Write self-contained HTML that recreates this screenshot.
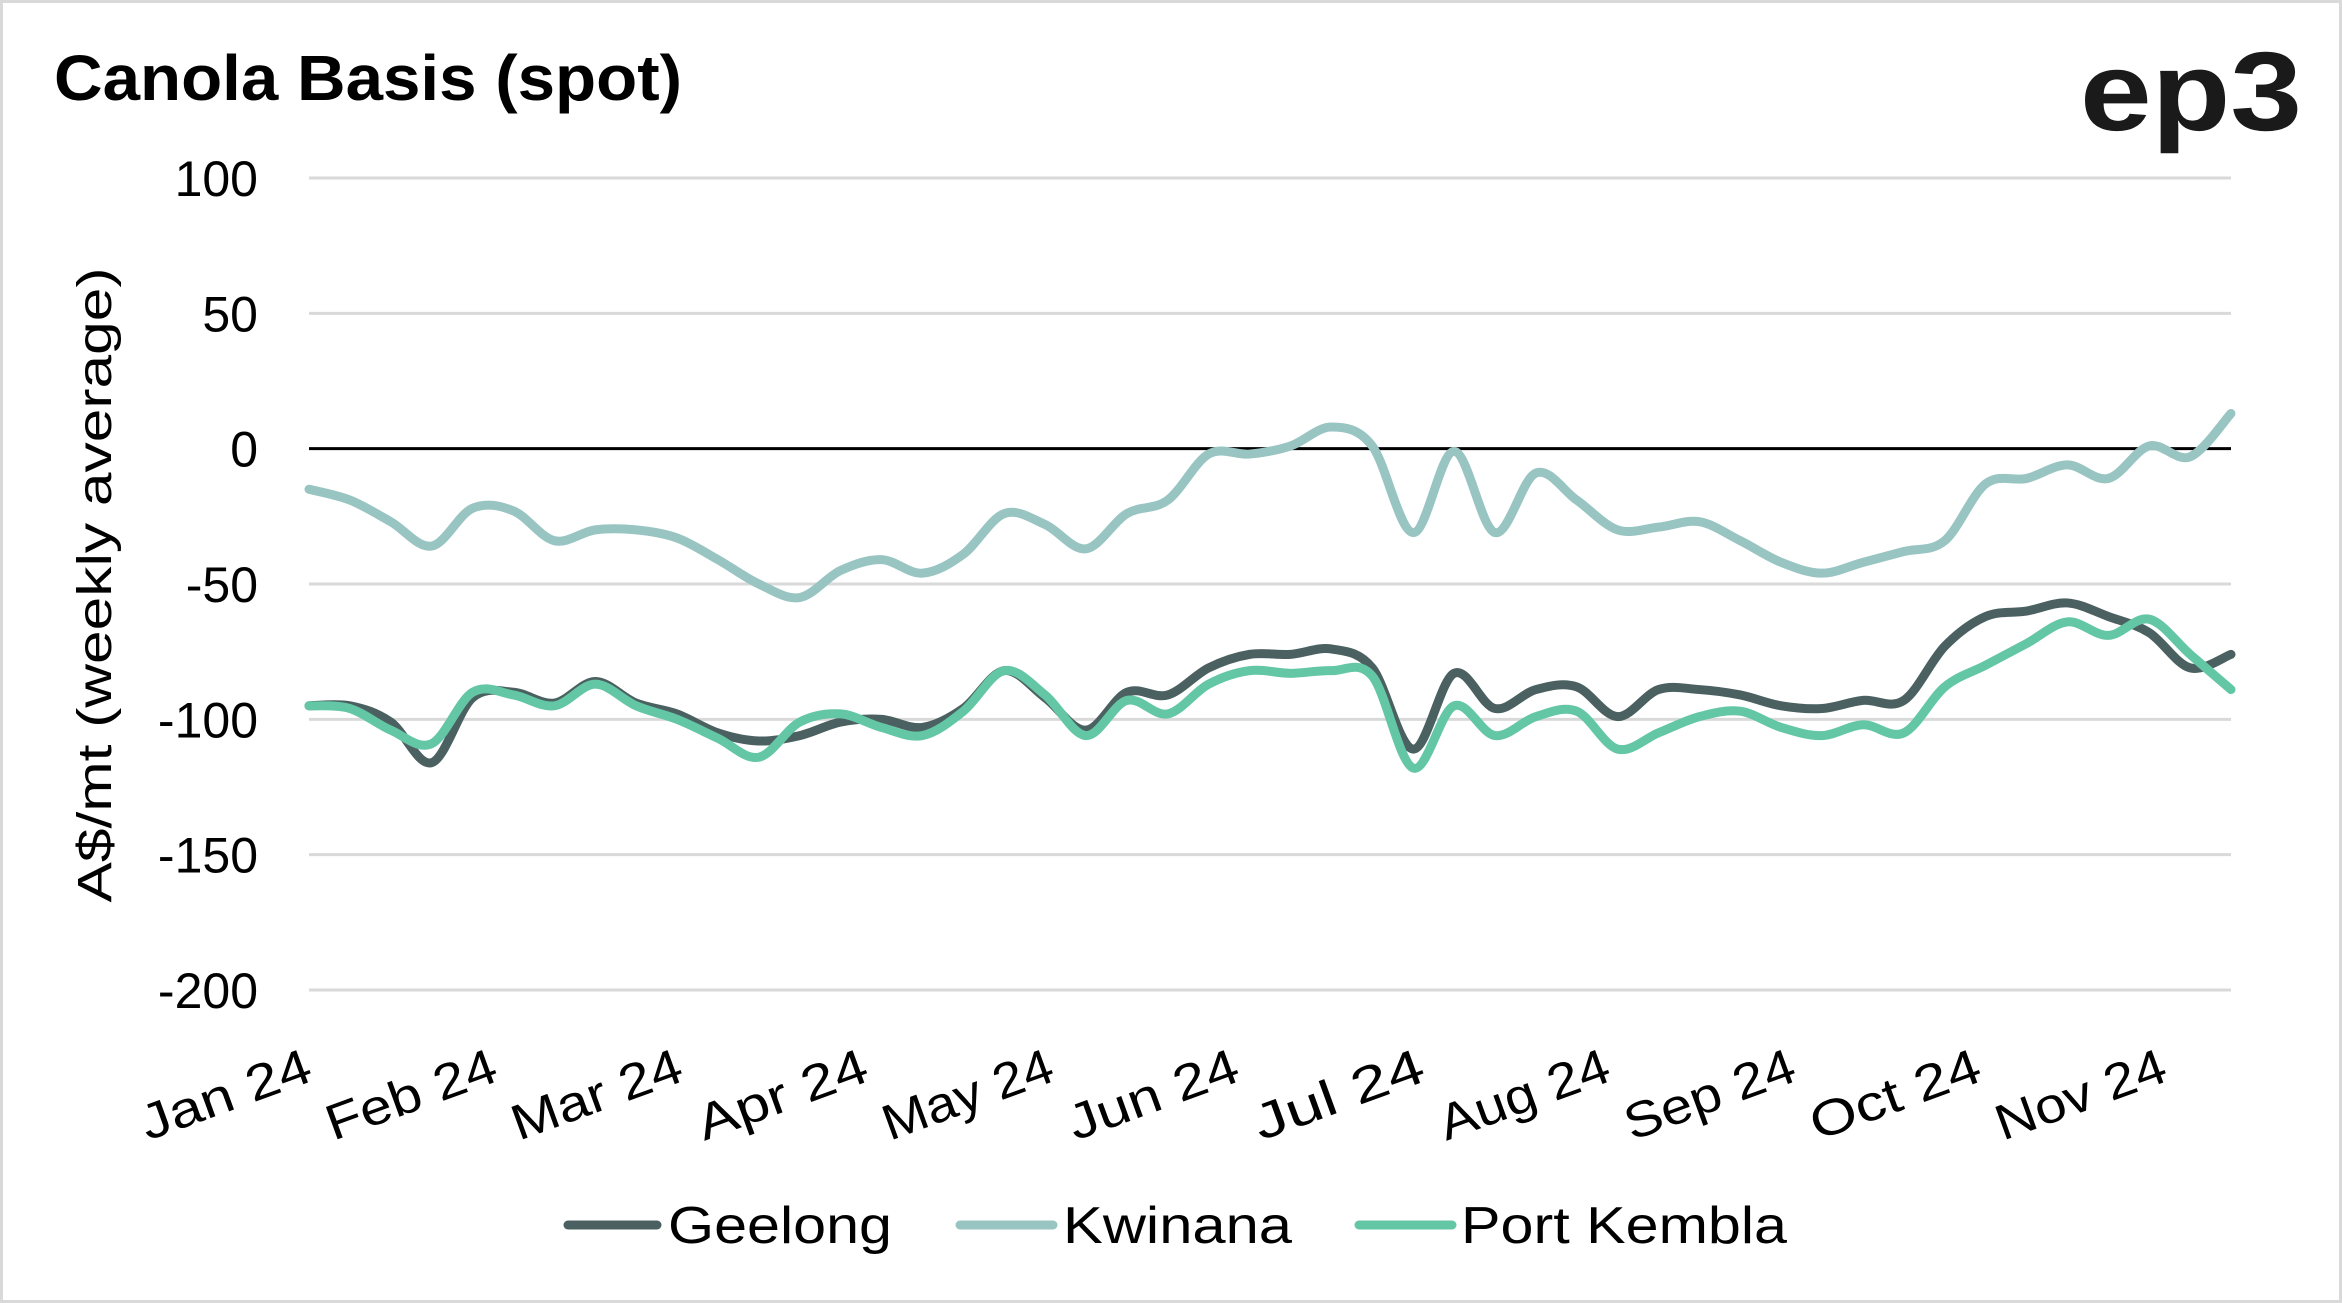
<!DOCTYPE html>
<html><head><meta charset="utf-8"><style>
html,body{margin:0;padding:0;background:#fff;}
svg{display:block;font-family:"Liberation Sans",sans-serif;}
</style></head><body>
<svg id="chart" width="2342" height="1303" viewBox="0 0 2342 1303" xmlns="http://www.w3.org/2000/svg">
<rect x="1.5" y="1.5" width="2339" height="1300" fill="#fff" stroke="#d9d9d9" stroke-width="3"/>
<text x="54" y="100" font-size="64" font-weight="bold" textLength="628" lengthAdjust="spacingAndGlyphs" fill="#000">Canola Basis (spot)</text>
<text x="2302" y="130" font-size="112" font-weight="bold" text-anchor="end" textLength="222" lengthAdjust="spacingAndGlyphs" fill="#1a1a1a">ep3</text>
<g id="grid"></g>
<g id="yticks"></g>
<g id="xticks"></g>
<text transform="translate(111,585) rotate(-90)" font-size="48" text-anchor="middle" textLength="635" lengthAdjust="spacingAndGlyphs" fill="#000">A$/mt (weekly average)</text>
<g id="series"></g>
<g id="legend"></g>
</svg>
<script>
const yTicks=[100,50,0,-50,-100,-150,-200];
const months=["Jan 24","Feb 24","Mar 24","Apr 24","May 24","Jun 24","Jul 24","Aug 24","Sep 24","Oct 24","Nov 24"];
const geelong=[-95,-95,-101,-116,-92,-90,-94,-86,-94,-98,-105,-108,-106,-101,-100,-103,-96,-82,-92,-104,-90,-91,-81,-76,-76,-74,-81,-111,-83,-96,-89,-88,-99,-89,-89,-91,-95,-96,-93,-93,-73,-62,-60,-57,-62,-68,-81,-76];
const kwinana=[-15,-19,-27,-36,-22,-23,-34,-30,-30,-33,-41,-50,-55,-45,-41,-46,-39,-24,-28,-37,-24,-19,-2,-2,1,8,1,-31,-1,-31,-9,-19,-30,-29,-27,-34,-42,-46,-42,-38,-34,-13,-11,-6,-11,1,-3,13];
const portKembla=[-95,-96,-104,-109,-90,-91,-95,-87,-95,-100,-107,-114,-101,-98,-103,-106,-97,-82,-91,-106,-93,-98,-87,-82,-83,-82,-84,-118,-95,-106,-99,-97,-111,-105,-99,-97,-103,-106,-102,-105,-88,-80,-72,-64,-69,-63,-76,-89];
const seriesNames=["Geelong","Kwinana","Port Kembla"];
const seriesColors=["#4b6060","#98c4c2","#63c6a5"];

const NS="http://www.w3.org/2000/svg";
const X0=309,X1=2231,Y100=178,Ym200=990;
function yScale(v){return Y100+(100-v)*(Ym200-Y100)/300;}
function xScale(i,n){return X0+i*(X1-X0)/(n-1);}
function mk(tag,attrs,parent){const e=document.createElementNS(NS,tag);for(const k in attrs)e.setAttribute(k,attrs[k]);parent.appendChild(e);return e;}

const grid=document.getElementById('grid'),yt=document.getElementById('yticks');
yTicks.forEach(v=>{
  const y=yScale(v);
  const l=mk('line',{x1:X0,x2:X1,y1:y,y2:y,stroke:v===0?'#000':'#d9d9d9','stroke-width':3},grid);
  
  
  const t=mk('text',{x:258,y:y+18,'font-size':50,'text-anchor':'end',fill:'#000'},yt);
  t.textContent=String(v);
  
  
});
const xt=document.getElementById('xticks');
months.forEach((m,i)=>{
  const x=315+i*185.5;
  const t=mk('text',{transform:`translate(${x},1080) rotate(-20)`,'font-size':50,'text-anchor':'end',textLength:178,lengthAdjust:'spacingAndGlyphs',fill:'#000'},xt);
  t.textContent=m;
  
  
});
function pathFor(vals){
  const n=vals.length,p=vals.map((v,i)=>[xScale(i,n),yScale(v)]);
  let d=`M${p[0][0]},${p[0][1]}`;
  for(let i=0;i<n-1;i++){
    const a=p[Math.max(0,i-1)],b=p[i],c=p[i+1],e=p[Math.min(n-1,i+2)];
    const c1=[b[0]+(c[0]-a[0])/6,b[1]+(c[1]-a[1])/6],c2=[c[0]-(e[0]-b[0])/6,c[1]-(e[1]-b[1])/6];
    d+=` C${c1[0]},${c1[1]} ${c2[0]},${c2[1]} ${c[0]},${c[1]}`;
  }
  return d;
}
const sg=document.getElementById('series');
[geelong,kwinana,portKembla].forEach((vals,k)=>{
  const pth=mk('path',{d:pathFor(vals),fill:'none',stroke:seriesColors[k],'stroke-width':9,'stroke-linejoin':'round','stroke-linecap':'round'},sg);
  
  
});
const lg=document.getElementById('legend');
const legX=[[568,657,668,224],[960,1053,1063,229],[1359,1452,1461,326]];
seriesNames.forEach((s,k)=>{
  const g=mk('g',{},lg);
  
  
  mk('line',{x1:legX[k][0],x2:legX[k][1],y1:1225,y2:1225,stroke:seriesColors[k],'stroke-width':9,'stroke-linecap':'round'},g);
  const t=mk('text',{x:legX[k][2],y:1243,'font-size':52,textLength:legX[k][3],lengthAdjust:'spacingAndGlyphs',fill:'#000'},g);
  t.textContent=s;
});
</script>
</body></html>
